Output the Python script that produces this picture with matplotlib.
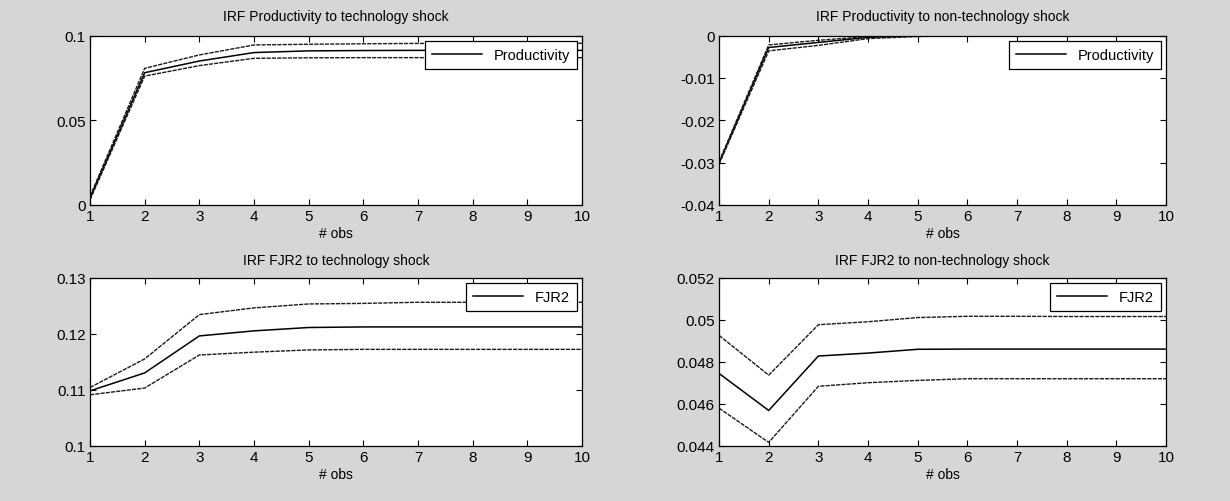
import numpy as np
import matplotlib
matplotlib.use("Agg")
import matplotlib.pyplot as plt
from matplotlib.ticker import FormatStrFormatter

plt.rcParams['font.family'] = ['Liberation Sans Narrow', 'Liberation Sans', 'DejaVu Sans']

obs = [1, 2, 3, 4, 5, 6, 7, 8, 9, 10]

# productivity -> technology shock
prod_tech_mid = [0.004, 0.0781, 0.0850, 0.0900, 0.0910, 0.0912, 0.0913, 0.0913, 0.0913, 0.0913]
prod_tech_up = [0.005, 0.0807, 0.0886, 0.0945, 0.0949, 0.0952, 0.0954, 0.0955, 0.0955, 0.0955]
prod_tech_lo = [0.003, 0.0761, 0.0823, 0.0866, 0.0869, 0.0870, 0.0870, 0.0870, 0.0870, 0.0870]

# productivity -> non-technology shock
prod_non_mid = [-0.0301, -0.0028, -0.0016, -0.0004, -0.0001, 0.0, 0.0, 0.0, 0.0, 0.0]
prod_non_up = [-0.0298, -0.0022, -0.0011, -0.0002, 0.0, 0.0, 0.0, 0.0, 0.0, 0.0]
prod_non_lo = [-0.0304, -0.0036, -0.0023, -0.0007, -0.0002, 0.0, 0.0, 0.0, 0.0, 0.0]

# FJR2 -> technology shock
fjr_tech_mid = [0.1098, 0.1130, 0.1196, 0.1205, 0.1211, 0.1212, 0.1212, 0.1212, 0.1212, 0.1212]
fjr_tech_up = [0.1104, 0.1155, 0.1234, 0.1246, 0.1253, 0.1254, 0.1256, 0.1256, 0.1256, 0.1256]
fjr_tech_lo = [0.1091, 0.1103, 0.1162, 0.1167, 0.1171, 0.1172, 0.1172, 0.1172, 0.1172, 0.1172]

# FJR2 -> non-technology shock
fjr_non_mid = [0.04744, 0.04568, 0.04827, 0.04841, 0.04859, 0.0486, 0.0486, 0.0486, 0.0486, 0.0486]
fjr_non_up = [0.04925, 0.04736, 0.04976, 0.04990, 0.05010, 0.05016, 0.05016, 0.05015, 0.05015, 0.05015]
fjr_non_lo = [0.04579, 0.04416, 0.04683, 0.04700, 0.04711, 0.04719, 0.04719, 0.04719, 0.04719, 0.04719]

panels = [
    ("IRF Productivity to technology shock", "Productivity",
     prod_tech_mid, prod_tech_up, prod_tech_lo, (0, 0.1), [0, 0.05, 0.1]),
    ("IRF Productivity to non-technology shock", "Productivity",
     prod_non_mid, prod_non_up, prod_non_lo, (-0.04, 0), [-0.04, -0.03, -0.02, -0.01, 0]),
    ("IRF FJR2 to technology shock", "FJR2",
     fjr_tech_mid, fjr_tech_up, fjr_tech_lo, (0.1, 0.13), [0.1, 0.11, 0.12, 0.13]),
    ("IRF FJR2 to non-technology shock", "FJR2",
     fjr_non_mid, fjr_non_up, fjr_non_lo, (0.044, 0.052), [0.044, 0.046, 0.048, 0.05, 0.052]),
]

# axes rectangles in figure fractions
rects = [
    [0.0732, 0.590, 0.400, 0.337],
    [0.5846, 0.590, 0.3634, 0.337],
    [0.0732, 0.110, 0.400, 0.335],
    [0.5846, 0.110, 0.3634, 0.335],
]
title_pads = [11, 11, 9.5, 9.5]

fig = plt.figure(figsize=(12.3, 5.02), dpi=100)
fig.patch.set_facecolor('#d6d6d6')

for (title, name, mid, up, lo, ylim, yticks), rect, tp in zip(panels, rects, title_pads):
    ax = fig.add_axes(rect)
    ax.set_facecolor('white')
    ax.plot(obs, mid, color='black', lw=1.1, label=name)
    ax.plot(obs, up, color='#1a1a1a', lw=1.0, dashes=(3, 0.8))
    ax.plot(obs, lo, color='#1a1a1a', lw=1.0, dashes=(3, 0.8))
    ax.set_xlim(1, 10)
    ax.set_ylim(*ylim)
    ax.set_xticks(obs)
    ax.set_yticks(yticks)
    ax.yaxis.set_major_formatter(FormatStrFormatter('%g'))
    ax.tick_params(direction='in', top=True, right=True, length=4, width=0.8,
                   labelsize=11, pad=3)
    for s in ax.spines.values():
        s.set_linewidth(0.9)
    ax.set_title(title, fontsize=10, pad=tp)
    ax.set_xlabel("# obs", fontsize=10, labelpad=2)
    leg = ax.legend(loc='upper right', fontsize=10.5, fancybox=False, framealpha=1,
                    edgecolor='black', handlelength=3.4, borderaxespad=0.35,
                    borderpad=0.5)
    leg.get_frame().set_linewidth(0.9)

fig.savefig("out.png", dpi=100, facecolor=fig.get_facecolor())
